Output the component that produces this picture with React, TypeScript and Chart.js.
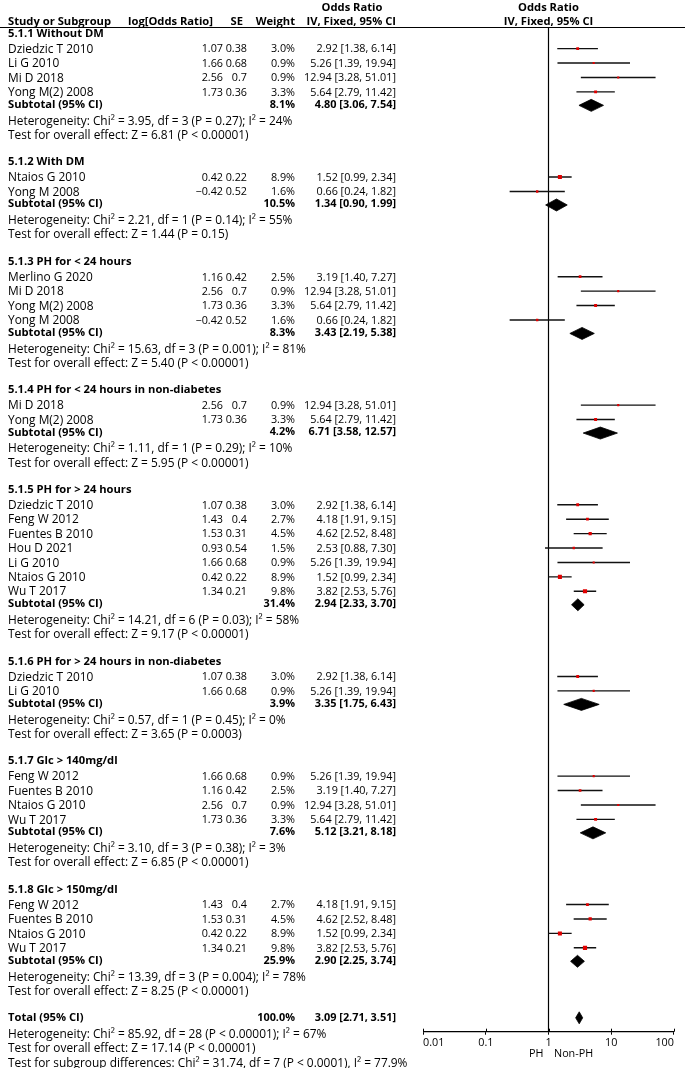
import React, { useEffect, useRef } from 'react';
import { Chart, registerables } from 'chart.js';

Chart.register(...registerables);

// [study, log[Odds Ratio], SE, weight %, OR, lower 95% CI, upper 95% CI]
type Study = [string, number, number, number, number, number, number];

const g1Title = '5.1.1 Without DM';
const g1Studies: Study[] = [
  ['Dziedzic T 2010', 1.07, 0.38, 3.0, 2.92, 1.38, 6.14],
  ['Li G 2010', 1.66, 0.68, 0.9, 5.26, 1.39, 19.94],
  ['Mi D 2018', 2.56, 0.7, 0.9, 12.94, 3.28, 51.01],
  ['Yong M(2) 2008', 1.73, 0.36, 3.3, 5.64, 2.79, 11.42],
];
const g1Subtotal = [8.1, 4.8, 3.06, 7.54];
const g1Het = 'Heterogeneity: Chi² = 3.95, df = 3 (P = 0.27); I² = 24%';
const g1Test = 'Test for overall effect: Z = 6.81 (P < 0.00001)';

const g2Title = '5.1.2 With DM';
const g2Studies: Study[] = [
  ['Ntaios G 2010', 0.42, 0.22, 8.9, 1.52, 0.99, 2.34],
  ['Yong M 2008', -0.42, 0.52, 1.6, 0.66, 0.24, 1.82],
];
const g2Subtotal = [10.5, 1.34, 0.9, 1.99];
const g2Het = 'Heterogeneity: Chi² = 2.21, df = 1 (P = 0.14); I² = 55%';
const g2Test = 'Test for overall effect: Z = 1.44 (P = 0.15)';

const g3Title = '5.1.3 PH for < 24 hours';
const g3Studies: Study[] = [
  ['Merlino G 2020', 1.16, 0.42, 2.5, 3.19, 1.4, 7.27],
  ['Mi D 2018', 2.56, 0.7, 0.9, 12.94, 3.28, 51.01],
  ['Yong M(2) 2008', 1.73, 0.36, 3.3, 5.64, 2.79, 11.42],
  ['Yong M 2008', -0.42, 0.52, 1.6, 0.66, 0.24, 1.82],
];
const g3Subtotal = [8.3, 3.43, 2.19, 5.38];
const g3Het = 'Heterogeneity: Chi² = 15.63, df = 3 (P = 0.001); I² = 81%';
const g3Test = 'Test for overall effect: Z = 5.40 (P < 0.00001)';

const g4Title = '5.1.4 PH for < 24 hours in non-diabetes';
const g4Studies: Study[] = [
  ['Mi D 2018', 2.56, 0.7, 0.9, 12.94, 3.28, 51.01],
  ['Yong M(2) 2008', 1.73, 0.36, 3.3, 5.64, 2.79, 11.42],
];
const g4Subtotal = [4.2, 6.71, 3.58, 12.57];
const g4Het = 'Heterogeneity: Chi² = 1.11, df = 1 (P = 0.29); I² = 10%';
const g4Test = 'Test for overall effect: Z = 5.95 (P < 0.00001)';

const g5Title = '5.1.5 PH for > 24 hours';
const g5Studies: Study[] = [
  ['Dziedzic T 2010', 1.07, 0.38, 3.0, 2.92, 1.38, 6.14],
  ['Feng W 2012', 1.43, 0.4, 2.7, 4.18, 1.91, 9.15],
  ['Fuentes B 2010', 1.53, 0.31, 4.5, 4.62, 2.52, 8.48],
  ['Hou D 2021', 0.93, 0.54, 1.5, 2.53, 0.88, 7.3],
  ['Li G 2010', 1.66, 0.68, 0.9, 5.26, 1.39, 19.94],
  ['Ntaios G 2010', 0.42, 0.22, 8.9, 1.52, 0.99, 2.34],
  ['Wu T 2017', 1.34, 0.21, 9.8, 3.82, 2.53, 5.76],
];
const g5Subtotal = [31.4, 2.94, 2.33, 3.7];
const g5Het = 'Heterogeneity: Chi² = 14.21, df = 6 (P = 0.03); I² = 58%';
const g5Test = 'Test for overall effect: Z = 9.17 (P < 0.00001)';

const g6Title = '5.1.6 PH for > 24 hours in non-diabetes';
const g6Studies: Study[] = [
  ['Dziedzic T 2010', 1.07, 0.38, 3.0, 2.92, 1.38, 6.14],
  ['Li G 2010', 1.66, 0.68, 0.9, 5.26, 1.39, 19.94],
];
const g6Subtotal = [3.9, 3.35, 1.75, 6.43];
const g6Het = 'Heterogeneity: Chi² = 0.57, df = 1 (P = 0.45); I² = 0%';
const g6Test = 'Test for overall effect: Z = 3.65 (P = 0.0003)';

const g7Title = '5.1.7 Glc > 140mg/dl';
const g7Studies: Study[] = [
  ['Feng W 2012', 1.66, 0.68, 0.9, 5.26, 1.39, 19.94],
  ['Fuentes B 2010', 1.16, 0.42, 2.5, 3.19, 1.4, 7.27],
  ['Ntaios G 2010', 2.56, 0.7, 0.9, 12.94, 3.28, 51.01],
  ['Wu T 2017', 1.73, 0.36, 3.3, 5.64, 2.79, 11.42],
];
const g7Subtotal = [7.6, 5.12, 3.21, 8.18];
const g7Het = 'Heterogeneity: Chi² = 3.10, df = 3 (P = 0.38); I² = 3%';
const g7Test = 'Test for overall effect: Z = 6.85 (P < 0.00001)';

const g8Title = '5.1.8 Glc > 150mg/dl';
const g8Studies: Study[] = [
  ['Feng W 2012', 1.43, 0.4, 2.7, 4.18, 1.91, 9.15],
  ['Fuentes B 2010', 1.53, 0.31, 4.5, 4.62, 2.52, 8.48],
  ['Ntaios G 2010', 0.42, 0.22, 8.9, 1.52, 0.99, 2.34],
  ['Wu T 2017', 1.34, 0.21, 9.8, 3.82, 2.53, 5.76],
];
const g8Subtotal = [25.9, 2.9, 2.25, 3.74];
const g8Het = 'Heterogeneity: Chi² = 13.39, df = 3 (P = 0.004); I² = 78%';
const g8Test = 'Test for overall effect: Z = 8.25 (P < 0.00001)';

const totalLabel = 'Total (95% CI)';
const totalRow = [100.0, 3.09, 2.71, 3.51];
const totalHet = 'Heterogeneity: Chi² = 85.92, df = 28 (P < 0.00001); I² = 67%';
const totalTest = 'Test for overall effect: Z = 17.14 (P < 0.00001)';
const subgroupTest = 'Test for subgroup differences: Chi² = 31.74, df = 7 (P < 0.0001), I² = 77.9%';

const subtotalLabel = 'Subtotal (95% CI)';
const headerLabels = ['Study or Subgroup', 'log[Odds Ratio]', 'SE', 'Weight', 'IV, Fixed, 95% CI'];
const headerTop = 'Odds Ratio';
const plotHeader = ['Odds Ratio', 'IV, Fixed, 95% CI'];
const xTicks = [0.01, 0.1, 1, 10, 100];
const xTickLabels = ['0.01', '0.1', '1', '10', '100'];
const favoursLeft = 'PH';
const favoursRight = 'Non-PH';

const groups = [
  { title: g1Title, studies: g1Studies, sub: g1Subtotal, het: g1Het, test: g1Test },
  { title: g2Title, studies: g2Studies, sub: g2Subtotal, het: g2Het, test: g2Test },
  { title: g3Title, studies: g3Studies, sub: g3Subtotal, het: g3Het, test: g3Test },
  { title: g4Title, studies: g4Studies, sub: g4Subtotal, het: g4Het, test: g4Test },
  { title: g5Title, studies: g5Studies, sub: g5Subtotal, het: g5Het, test: g5Test },
  { title: g6Title, studies: g6Studies, sub: g6Subtotal, het: g6Het, test: g6Test },
  { title: g7Title, studies: g7Studies, sub: g7Subtotal, het: g7Het, test: g7Test },
  { title: g8Title, studies: g8Studies, sub: g8Subtotal, het: g8Het, test: g8Test },
];

// ---- layout (pixels) ----
const W = 685;
const H = 1068;
const PLOT_TOP = 27;
const AXIS_Y = 1031.7;
const PLOT_LEFT = 423.1;
const PLOT_RIGHT = 673.9;
const FIRST_GROUP_Y = 32.9;
const HEAD_TO_STUDY = 15.7;
const STUDY_STEP = 14.42;
const STUDY_TO_SUB = 12;
const SUB_TO_HET = 16.5;
const HET_TO_TEST = 14.3;
const TEST_TO_NEXT = 26.7;
const DIAMOND_DY = 1.5;
const DIAMOND_HALF = 6;
const TEXT_DY = 0.8;
const COL_NAME = 8;
const COL_LOGOR = 223;
const COL_SE = 247;
const COL_WEIGHT = 295;
const COL_CI = 396;
const HDR_LOGOR = 213;
const HDR_SE = 243;
const FONT_FAMILY = 'Open Sans';

type Kind = 'text' | 'bold' | 'num' | 'boldnum';
type TextItem = { s: string; x: number; y: number; align: CanvasTextAlign; kind: Kind };

const fmtCI = (or: number, lo: number, hi: number) => `${or.toFixed(2)} [${lo.toFixed(2)}, ${hi.toFixed(2)}]`;
const fmtLog = (v: number) => (v < 0 ? '−' + Math.abs(v).toFixed(2) : v.toFixed(2));

function buildLayout() {
  const texts: TextItem[] = [];
  const studyRows: { s: Study; y: number }[] = [];
  const diamonds: { or: number; lo: number; hi: number; y: number }[] = [];
  let y = FIRST_GROUP_Y;
  groups.forEach((g) => {
    texts.push({ s: g.title, x: COL_NAME, y, align: 'left', kind: 'bold' });
    y += HEAD_TO_STUDY;
    g.studies.forEach((s, i) => {
      if (i > 0) y += STUDY_STEP;
      texts.push({ s: s[0], x: COL_NAME, y, align: 'left', kind: 'text' });
      texts.push({ s: fmtLog(s[1]), x: COL_LOGOR, y, align: 'right', kind: 'num' });
      texts.push({ s: String(s[2]), x: COL_SE, y, align: 'right', kind: 'num' });
      texts.push({ s: s[3].toFixed(1) + '%', x: COL_WEIGHT, y, align: 'right', kind: 'num' });
      texts.push({ s: fmtCI(s[4], s[5], s[6]), x: COL_CI, y, align: 'right', kind: 'num' });
      studyRows.push({ s, y });
    });
    y += STUDY_TO_SUB;
    texts.push({ s: subtotalLabel, x: COL_NAME, y, align: 'left', kind: 'bold' });
    texts.push({ s: g.sub[0].toFixed(1) + '%', x: COL_WEIGHT, y, align: 'right', kind: 'boldnum' });
    texts.push({ s: fmtCI(g.sub[1], g.sub[2], g.sub[3]), x: COL_CI, y, align: 'right', kind: 'boldnum' });
    diamonds.push({ or: g.sub[1], lo: g.sub[2], hi: g.sub[3], y: y + DIAMOND_DY });
    y += SUB_TO_HET;
    texts.push({ s: g.het, x: COL_NAME, y, align: 'left', kind: 'text' });
    y += HET_TO_TEST;
    texts.push({ s: g.test, x: COL_NAME, y, align: 'left', kind: 'text' });
    y += TEST_TO_NEXT;
  });
  texts.push({ s: totalLabel, x: COL_NAME, y, align: 'left', kind: 'bold' });
  texts.push({ s: totalRow[0].toFixed(1) + '%', x: COL_WEIGHT, y, align: 'right', kind: 'boldnum' });
  texts.push({ s: fmtCI(totalRow[1], totalRow[2], totalRow[3]), x: COL_CI, y, align: 'right', kind: 'boldnum' });
  diamonds.push({ or: totalRow[1], lo: totalRow[2], hi: totalRow[3], y: y + 0.5 });
  y += SUB_TO_HET;
  texts.push({ s: totalHet, x: COL_NAME, y, align: 'left', kind: 'text' });
  y += HET_TO_TEST;
  texts.push({ s: totalTest, x: COL_NAME, y, align: 'left', kind: 'text' });
  y += HET_TO_TEST;
  texts.push({ s: subgroupTest, x: COL_NAME, y, align: 'left', kind: 'text' });

  // headers
  texts.push({ s: headerTop, x: (COL_CI + 308) / 2, y: 7.5, align: 'center', kind: 'bold' });
  texts.push({ s: headerLabels[0], x: COL_NAME, y: 21, align: 'left', kind: 'bold' });
  texts.push({ s: headerLabels[1], x: HDR_LOGOR, y: 21, align: 'right', kind: 'bold' });
  texts.push({ s: headerLabels[2], x: HDR_SE, y: 21, align: 'right', kind: 'bold' });
  texts.push({ s: headerLabels[3], x: COL_WEIGHT, y: 21, align: 'right', kind: 'bold' });
  texts.push({ s: headerLabels[4], x: COL_CI, y: 21, align: 'right', kind: 'bold' });
  return { texts, studyRows, diamonds };
}

function fitFontSize(ref: string, target: number, weight: string) {
  const c = document.createElement('canvas').getContext('2d');
  if (!c) return 10;
  c.font = `${weight} 100px "${FONT_FAMILY}"`;
  const w = c.measureText(ref).width;
  return Math.round(((100 * target) / w) * 10) / 10;
}

export default function App() {
  const ref = useRef<HTMLCanvasElement | null>(null);

  useEffect(() => {
    if (!ref.current) return;
    const sizes: Record<Kind, number> = {
      text: fitFontSize(g1Het, 285, 'normal'),
      bold: fitFontSize(subtotalLabel, 95, 'bold'),
      num: fitFontSize('12.94 [3.28, 51.01]', 92, 'normal'),
      boldnum: fitFontSize('6.71 [3.58, 12.57]', 88, 'bold'),
    };
    const fontOf = (k: Kind) =>
      `${k === 'bold' || k === 'boldnum' ? 'bold ' : ''}${sizes[k]}px "${FONT_FAMILY}"`;
    const { texts, studyRows, diamonds } = buildLayout();

    const pointsDs: any = {
      label: 'estimates',
      data: studyRows.map((r) => ({ x: r.s[4], y: r.y })),
      pointStyle: 'rect',
      pointRadius: studyRows.map((r) => (1.2 + 0.95 * Math.sqrt(r.s[3])) / Math.SQRT2),
      pointBackgroundColor: '#e00000',
      pointBorderWidth: 0,
      showLine: false,
      order: 0,
    };
    const ciDs: any[] = studyRows.map((r) => ({
      label: r.s[0],
      data: [
        { x: r.s[5], y: r.y },
        { x: r.s[6], y: r.y },
      ],
      showLine: true,
      borderColor: '#111',
      borderWidth: 1.4,
      pointRadius: 0,
      order: 2,
    }));
    const diamondDs: any[] = diamonds.map((d) => ({
      label: 'diamond',
      data: [
        { x: d.lo, y: d.y },
        { x: d.or, y: d.y - DIAMOND_HALF },
        { x: d.hi, y: d.y },
        { x: d.or, y: d.y + DIAMOND_HALF },
        { x: d.lo, y: d.y },
      ],
      showLine: true,
      fill: 'shape',
      backgroundColor: '#000',
      borderColor: '#000',
      borderWidth: 0.8,
      pointRadius: 0,
      order: 1,
    }));
    const refLine: any = {
      label: 'no effect',
      data: [
        { x: 1, y: PLOT_TOP },
        { x: 1, y: AXIS_Y },
      ],
      showLine: true,
      borderColor: '#000',
      borderWidth: 1.2,
      pointRadius: 0,
      order: 3,
    };

    const textPlugin = {
      id: 'forestText',
      afterDraw(chart: any) {
        const ctx: CanvasRenderingContext2D = chart.ctx;
        const ys = chart.scales.y;
        const xs = chart.scales.x;
        ctx.save();
        ctx.fillStyle = '#000';
        ctx.textBaseline = 'middle';
        texts.forEach((t) => {
          ctx.font = fontOf(t.kind);
          ctx.textAlign = t.align;
          ctx.fillText(t.s, t.x, ys.getPixelForValue(t.y) + TEXT_DY);
        });
        const cx = xs.getPixelForValue(1);
        ctx.font = fontOf('bold');
        ctx.textAlign = 'center';
        ctx.fillText(plotHeader[0], cx, 7.5 + TEXT_DY);
        ctx.fillText(plotHeader[1], cx, 21 + TEXT_DY);
        ctx.font = fontOf('num');
        ctx.textAlign = 'right';
        ctx.fillText(favoursLeft, cx - 5, 1053 + TEXT_DY);
        ctx.textAlign = 'left';
        ctx.fillText(favoursRight, cx + 5.5, 1053 + TEXT_DY);
        // header rule
        ctx.strokeStyle = '#000';
        ctx.lineWidth = 1;
        ctx.beginPath();
        ctx.moveTo(0, PLOT_TOP + 0.5);
        ctx.lineTo(W, PLOT_TOP + 0.5);
        ctx.stroke();
        // upper halves of tick marks
        const by = chart.chartArea.bottom;
        ctx.beginPath();
        xTicks.forEach((v) => {
          const px = Math.round(xs.getPixelForValue(v)) + 0.5;
          ctx.moveTo(px, by - 3);
          ctx.lineTo(px, by);
        });
        ctx.stroke();
        ctx.restore();
      },
    };

    const chart = new Chart(ref.current, {
      type: 'scatter',
      data: { datasets: [pointsDs, ...diamondDs, ...ciDs, refLine] },
      options: {
        animation: false,
        responsive: false,
        maintainAspectRatio: false,
        events: [],
        layout: { padding: { left: PLOT_LEFT, right: W - PLOT_RIGHT, top: PLOT_TOP, bottom: 0 } },
        plugins: { legend: { display: false }, tooltip: { enabled: false } },
        scales: {
          x: {
            type: 'logarithmic',
            min: 0.01,
            max: 100,
            position: 'bottom',
            afterBuildTicks: (s: any) => {
              s.ticks = xTicks.map((v) => ({ value: v }));
            },
            afterFit: (s: any) => {
              s.height = H - AXIS_Y;
            },
            grid: { drawOnChartArea: false, drawTicks: true, tickLength: 3, color: '#000', lineWidth: 1 },
            border: { color: '#000', width: 1.2 },
            ticks: {
              align: 'inner',
              padding: 2,
              color: '#000',
              autoSkip: false,
              maxRotation: 0,
              font: { family: FONT_FAMILY, size: sizes.num },
              callback: (v: any) => {
                const i = xTicks.indexOf(Number(v));
                return i >= 0 ? xTickLabels[i] : '';
              },
            },
          },
          y: { type: 'linear', min: PLOT_TOP, max: AXIS_Y, reverse: true, display: false },
        },
      } as any,
      plugins: [textPlugin],
    });
    return () => chart.destroy();
  }, []);

  return (
    <div style={{ position: 'absolute', left: 0, top: 0, width: W, height: H, background: '#fff' }}>
      <canvas ref={ref} width={W} height={H} style={{ display: 'block' }} />
    </div>
  );
}
